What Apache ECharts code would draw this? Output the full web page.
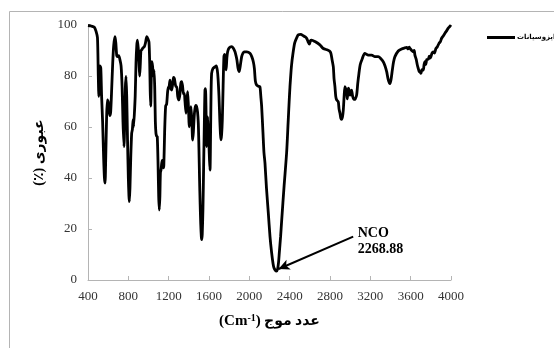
<!DOCTYPE html>
<html>
<head>
<meta charset="utf-8">
<script src="https://cdn.jsdelivr.net/npm/echarts@6/dist/echarts.min.js"></script>
<style>html,body{margin:0;padding:0;background:#fff}#c{width:554px;height:348px}</style>
</head>
<body>
<div id="c"></div>
<script>
// ---- data ----
const seriesName = 'ایزوسیانات';
const wavenumbers = [400,430,463,480,494,502,508,514,519,527,535,545,555,563,569,576,584,592,600,610,618,625,635,645,655,668,676,685,694,705,717,728,738,747,757,764,770,777,784,792,800,806,810,816,824,833,840,848,853,860,868,876,884,890,898,905,912,918,925,932,945,959,970,983,995,1005,1012,1017,1022,1027,1032,1040,1048,1055,1062,1068,1074,1080,1087,1095,1101,1107,1113,1118,1124,1132,1140,1147,1152,1160,1170,1180,1190,1197,1205,1213,1222,1230,1240,1248,1256,1265,1272,1280,1290,1302,1312,1320,1329,1338,1347,1355,1362,1372,1380,1388,1396,1405,1413,1421,1430,1438,1445,1453,1461,1470,1477,1486,1494,1500,1506,1512,1518,1524,1528,1533,1540,1547,1554,1560,1565,1570,1577,1582,1586,1592,1600,1605,1610,1615,1620,1626,1640,1659,1672,1682,1690,1699,1708,1714,1719,1725,1732,1740,1748,1755,1760,1765,1770,1777,1785,1800,1824,1840,1858,1868,1877,1888,1900,1912,1924,1937,1950,1975,2006,2025,2040,2050,2060,2072,2090,2105,2114,2122,2135,2145,2155,2170,2188,2205,2221,2235,2244,2258,2269,2280,2290,2297,2310,2321,2345,2370,2385,2395,2403,2418,2433,2450,2470,2485,2510,2535,2555,2568,2582,2595,2606,2618,2651,2700,2733,2776,2795,2809,2820,2833,2840,2849,2857,2866,2882,2890,2899,2907,2915,2924,2932,2940,2948,2956,2965,2972,2981,2990,2998,3006,3014,3025,3038,3050,3064,3075,3087,3100,3120,3145,3180,3213,3246,3279,3302,3328,3345,3362,3378,3395,3405,3418,3430,3444,3477,3510,3540,3560,3575,3585,3593,3610,3626,3635,3642,3655,3666,3675,3685,3695,3702,3712,3725,3733,3742,3750,3760,3775,3785,3792,3801,3812,3824,3835,3851,3865,3881,3895,3907,3925,3940,3958,3973,3990,4000];
const transmittance = [99.8,99.6,99.1,97.5,95,80,72,78,84,83,72,62,48,40,38,48,63,70.6,70,66,64.5,66,75,85,92,95.4,93,88,87.6,88,86.3,84,76,62,52.3,62,75,79.8,72,55,40,33,30.7,36,48,57.5,59,63,60,60,72,85,92,94.1,91,86,80,84,90,90.2,91,91.5,93,95.4,94.5,93.2,85,74,68.2,78,85.6,84,80,82.3,75,62,57.5,56.5,56.2,45,33,27.5,33,42,43.1,46,47,44,45,58,68.2,69,74,75.4,76,78.4,75,74.5,77,79.5,79.1,77,75.8,75.8,72,70.6,73,77,77.8,76,73,73.2,70,65.4,70,73.9,68,60.1,64,68,62,54.9,58,64,67.3,68.5,68,66,61.4,52,40,30,22,17,15.8,18,28,45,62,74.5,75,68,52.3,58,64,58,52.3,47,43.1,55,72,81,83,83.6,84,82.4,79,72,62,57,55,57,62.7,76,87.6,88.5,86,84,82.4,87,89.5,91,91.5,91,89.5,88,86.3,83,81.7,84.5,87.6,89,89.5,89.5,88.9,87.5,85.5,83,78,76.5,76,75.8,72,68.2,58,50,45.9,36,26.4,17,10.7,6.5,4.8,3.8,3.5,4.2,7,10.5,17,23.5,37,50,62,70,75.8,84,88.9,93,95,96.1,96.3,95.8,95.3,94.8,93.5,92.5,93.8,94.1,93.5,92.2,90.8,90.2,89.8,88.9,86.5,83.6,79,75.8,72,70.6,69.9,67,65.4,63.5,63,64,66.7,72,75.8,75,73.9,71,75.2,74.5,72.5,73,74.5,72,70.8,71,72.5,77,81,84.5,86.8,88.9,88.2,88.2,87.6,87.6,86.9,85.6,84,81.7,78.5,77,78.5,82.3,85.5,87.6,89.8,90.6,91,91.2,90.6,91.3,90.8,90,89.5,90,88.2,86.5,84.3,83,81.7,81.5,81,82.5,82.3,84.5,85.6,84.5,86.5,86.6,87.8,87,87.6,89,89.5,89,90.8,91.5,92.8,93.5,94.8,95.8,96.8,97.8,98.8,99.5,100];
const xTicks = {min: 400, max: 4000, step: 400};
const yTicks = {min: 0, max: 100, step: 20};
const peakLabel = 'NCO\n2268.88';
const peakPoint = [2290, 4.3];     // arrow tip (near the 2268.88 minimum)
const labelAnchor = [3030, 17];    // arrow tail / label anchor

const points = wavenumbers.map((w, i) => [w, transmittance[i]]);

const chart = echarts.init(document.getElementById('c'), null, {renderer: 'canvas'});
const serif = '"Liberation Serif", "Times New Roman", "DejaVu Serif", serif';
const arab = '"Liberation Serif", "DejaVu Sans", "Noto Sans", sans-serif';
chart.setOption({
  animation: false,
  backgroundColor: '#fff',
  graphic: [{
    type: 'rect', silent: true,
    shape: {x: 9.5, y: 11.5, width: 600, height: 400},
    style: {fill: 'none', stroke: '#b4b4b4', lineWidth: 1}
  }],
  legend: {
    left: 482, top: 29,
    itemWidth: 28, itemHeight: 3,
    icon: 'rect',
    itemGap: 2,
    textStyle: {fontSize: 7, fontWeight: 'bold', color: '#000', fontFamily: arab, padding: [0,0,0,-3]},
    data: [seriesName]
  },
  grid: {left: 88, right: 103, top: 25, bottom: 68, containLabel: false},
  xAxis: {
    type: 'value',
    min: xTicks.min, max: xTicks.max, interval: xTicks.step,
    name: '{a|(Cm}{s|-1}{a|)} {b|عدد موج}',
    nameLocation: 'middle', nameGap: 33,
    nameTextStyle: {
      rich: {
        a: {fontFamily: serif, fontWeight: 'bold', fontSize: 15, color: '#000'},
        s: {fontFamily: serif, fontWeight: 'bold', fontSize: 10, color: '#000', verticalAlign: 'top', padding: [0,0,6,0]},
        b: {fontFamily: arab, fontWeight: 'bold', fontSize: 14, color: '#000'}
      }
    },
    axisLine: {show: true, lineStyle: {color: '#b4b4b4', width: 1}},
    axisTick: {show: true, inside: true, length: 4, lineStyle: {color: '#b4b4b4'}},
    axisLabel: {fontFamily: serif, fontSize: 13, color: '#333', margin: 10, formatter: v => String(v)},
    splitLine: {show: false}
  },
  yAxis: {
    type: 'value',
    min: yTicks.min, max: yTicks.max, interval: yTicks.step,
    name: '(٪) عبوری',
    nameLocation: 'middle', nameGap: 41, nameRotate: 90,
    nameTextStyle: {fontFamily: arab, fontWeight: 'bold', fontSize: 14, color: '#000'},
    axisLine: {show: true, lineStyle: {color: '#b4b4b4', width: 1}},
    axisTick: {show: true, inside: true, length: 4, lineStyle: {color: '#b4b4b4'}},
    axisLabel: {fontFamily: serif, fontSize: 13, color: '#333', margin: 11, formatter: v => String(v)},
    splitLine: {show: false}
  },
  series: [{
    name: seriesName,
    type: 'line',
    data: points,
    showSymbol: false,
    symbol: 'none',
    smooth: 0.25,
    lineStyle: {color: '#000', width: 2.8},
    itemStyle: {color: '#000'},
    silent: true,
    markLine: {
      silent: true,
      symbol: ['none', 'arrow'],
      symbolSize: [8, 11],
      label: {show: false},
      lineStyle: {color: '#000', width: 2, type: 'solid'},
      emphasis: {disabled: true},
      data: [[{coord: labelAnchor}, {coord: peakPoint}]]
    },
    markPoint: {
      silent: true,
      symbol: 'circle', symbolSize: 1,
      itemStyle: {color: 'rgba(0,0,0,0)'},
      label: {
        show: true, position: 'right', distance: 4, offset: [0, 5],
        formatter: peakLabel,
        fontFamily: serif, fontWeight: 'bold', fontSize: 14, lineHeight: 16, color: '#000'
      },
      data: [{coord: labelAnchor}]
    }
  }]
});
</script>
</body>
</html>
